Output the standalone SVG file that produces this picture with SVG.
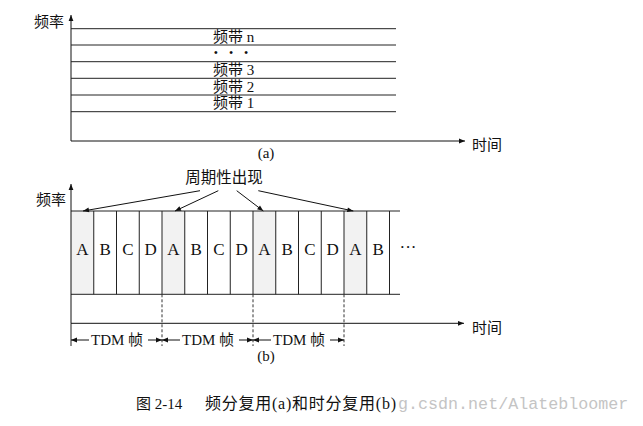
<svg xmlns="http://www.w3.org/2000/svg" width="643" height="426" viewBox="0 0 643 426">
<defs>
<marker id="ah" viewBox="0 0 10 10" refX="10" refY="5" markerWidth="7" markerHeight="6" orient="auto" markerUnits="userSpaceOnUse">
<path d="M0,1 L10,5 L0,9 z" fill="#111"/>
</marker>
<style>
.ln{stroke:#222;stroke-width:1;fill:none}
.ds{stroke:#333;stroke-width:1;fill:none;stroke-dasharray:3,2}
.ar{stroke:#111;stroke-width:1;fill:none;marker-end:url(#ah)}
.t{font-family:"Liberation Serif","Noto Sans CJK SC",serif;fill:#111}
.c{text-anchor:middle}
.shade{fill:#f2f2f2;stroke:none}
</style>
</defs>
<rect width="643" height="426" fill="#fff"/>

<!-- Part (a) -->
<g id="axes-a">
<line class="ar" x1="71" y1="141" x2="71" y2="15"/>
<line class="ar" x1="71" y1="141" x2="465" y2="141"/>
<text class="t" x="34" y="27" font-size="15">频率</text>
<text class="t" x="472" y="150" font-size="15">时间</text>
<text class="t c" x="266" y="158" font-size="15">(a)</text>
</g>
<g id="bands-a">
<line class="ln" x1="71" y1="28.7" x2="396" y2="28.7"/>
<line class="ln" x1="71" y1="45" x2="396" y2="45"/>
<line class="ln" x1="71" y1="61.7" x2="396" y2="61.7"/>
<line class="ln" x1="71" y1="78.3" x2="396" y2="78.3"/>
<line class="ln" x1="71" y1="95" x2="396" y2="95"/>
<line class="ln" x1="71" y1="111.7" x2="396" y2="111.7"/>
<text class="t" x="213" y="42" font-size="15">频带 n</text>
<text class="t c" x="233" y="57" font-size="12" letter-spacing="4">• • •</text>
<text class="t" x="213" y="75" font-size="15">频带 3</text>
<text class="t" x="213" y="92" font-size="15">频带 2</text>
<text class="t" x="213" y="108" font-size="15">频带 1</text>
</g>

<!-- Part (b) -->
<g id="cells-b">
<rect class="shade" x="71" y="211" width="22.75" height="83.3"/>
<rect class="shade" x="162" y="211" width="22.75" height="83.3"/>
<rect class="shade" x="253" y="211" width="22.75" height="83.3"/>
<rect class="shade" x="344" y="211" width="22.75" height="83.3"/>
<line class="ln" x1="71" y1="211" x2="400" y2="211"/>
<line class="ln" x1="71" y1="294.3" x2="400" y2="294.3"/>
<g class="ln">
<line x1="93.75" y1="211" x2="93.75" y2="294.3"/>
<line x1="116.5" y1="211" x2="116.5" y2="294.3"/>
<line x1="139.25" y1="211" x2="139.25" y2="294.3"/>
<line x1="162" y1="211" x2="162" y2="294.3"/>
<line x1="184.75" y1="211" x2="184.75" y2="294.3"/>
<line x1="207.5" y1="211" x2="207.5" y2="294.3"/>
<line x1="230.25" y1="211" x2="230.25" y2="294.3"/>
<line x1="253" y1="211" x2="253" y2="294.3"/>
<line x1="275.75" y1="211" x2="275.75" y2="294.3"/>
<line x1="298.5" y1="211" x2="298.5" y2="294.3"/>
<line x1="321.25" y1="211" x2="321.25" y2="294.3"/>
<line x1="344" y1="211" x2="344" y2="294.3"/>
<line x1="366.75" y1="211" x2="366.75" y2="294.3"/>
<line x1="389.5" y1="211" x2="389.5" y2="294.3"/>
</g>
<g class="t c" font-size="17">
<text x="82.4" y="255">A</text>
<text x="105.1" y="255">B</text>
<text x="127.9" y="255">C</text>
<text x="150.6" y="255">D</text>
<text x="173.4" y="255">A</text>
<text x="196.1" y="255">B</text>
<text x="218.9" y="255">C</text>
<text x="241.6" y="255">D</text>
<text x="264.4" y="255">A</text>
<text x="287.1" y="255">B</text>
<text x="309.9" y="255">C</text>
<text x="332.6" y="255">D</text>
<text x="355.4" y="255">A</text>
<text x="378.1" y="255">B</text>
<text x="408" y="253">···</text>
</g>
</g>

<g id="axes-b">
<line class="ar" x1="71" y1="323.3" x2="71" y2="184"/>
<line class="ln" x1="71" y1="323.3" x2="71" y2="346"/>
<line class="ar" x1="71" y1="323.3" x2="464" y2="323.3"/>
<text class="t" x="36" y="205" font-size="15">频率</text>
<text class="t" x="472" y="333" font-size="15">时间</text>
<text class="t c" x="266" y="361" font-size="15">(b)</text>
</g>

<g id="label-periodic">
<text class="t c" x="224" y="183" font-size="15.5">周期性出现</text>
</g>

<g id="connectors">
<line class="ar" x1="200" y1="190.7" x2="83" y2="211"/>
<line class="ar" x1="218.3" y1="190.7" x2="175" y2="211"/>
<line class="ar" x1="236.7" y1="190.7" x2="263.3" y2="211"/>
<line class="ar" x1="258.3" y1="190.7" x2="353.3" y2="211"/>
<line class="ds" x1="162" y1="294.3" x2="162" y2="346"/>
<line class="ds" x1="253" y1="294.3" x2="253" y2="346"/>
<line class="ds" x1="344" y1="294.3" x2="344" y2="346"/>
<line class="ar" x1="89" y1="340" x2="71" y2="340"/>
<line class="ar" x1="148" y1="340" x2="162" y2="340"/>
<line class="ar" x1="180" y1="340" x2="162" y2="340"/>
<line class="ar" x1="239" y1="340" x2="253" y2="340"/>
<line class="ar" x1="271" y1="340" x2="253" y2="340"/>
<line class="ar" x1="330" y1="340" x2="344" y2="340"/>
</g>
<g id="frame-labels">
<text class="t" x="91" y="345" font-size="15">TDM 帧</text>
<text class="t" x="182" y="345" font-size="15">TDM 帧</text>
<text class="t" x="273" y="345" font-size="15">TDM 帧</text>
</g>

<g id="caption">
<text x="398" y="409" font-size="16.7" fill="#c4c4c4" font-family="Liberation Mono, monospace">g.csdn.net/Alatebloomer</text>
<text class="t" x="136" y="409" font-size="15">图 2-14</text>
<text class="t" x="205" y="409" font-size="16" textLength="191" lengthAdjust="spacing">频分复用(a)和时分复用(b)</text>
</g>
</svg>
